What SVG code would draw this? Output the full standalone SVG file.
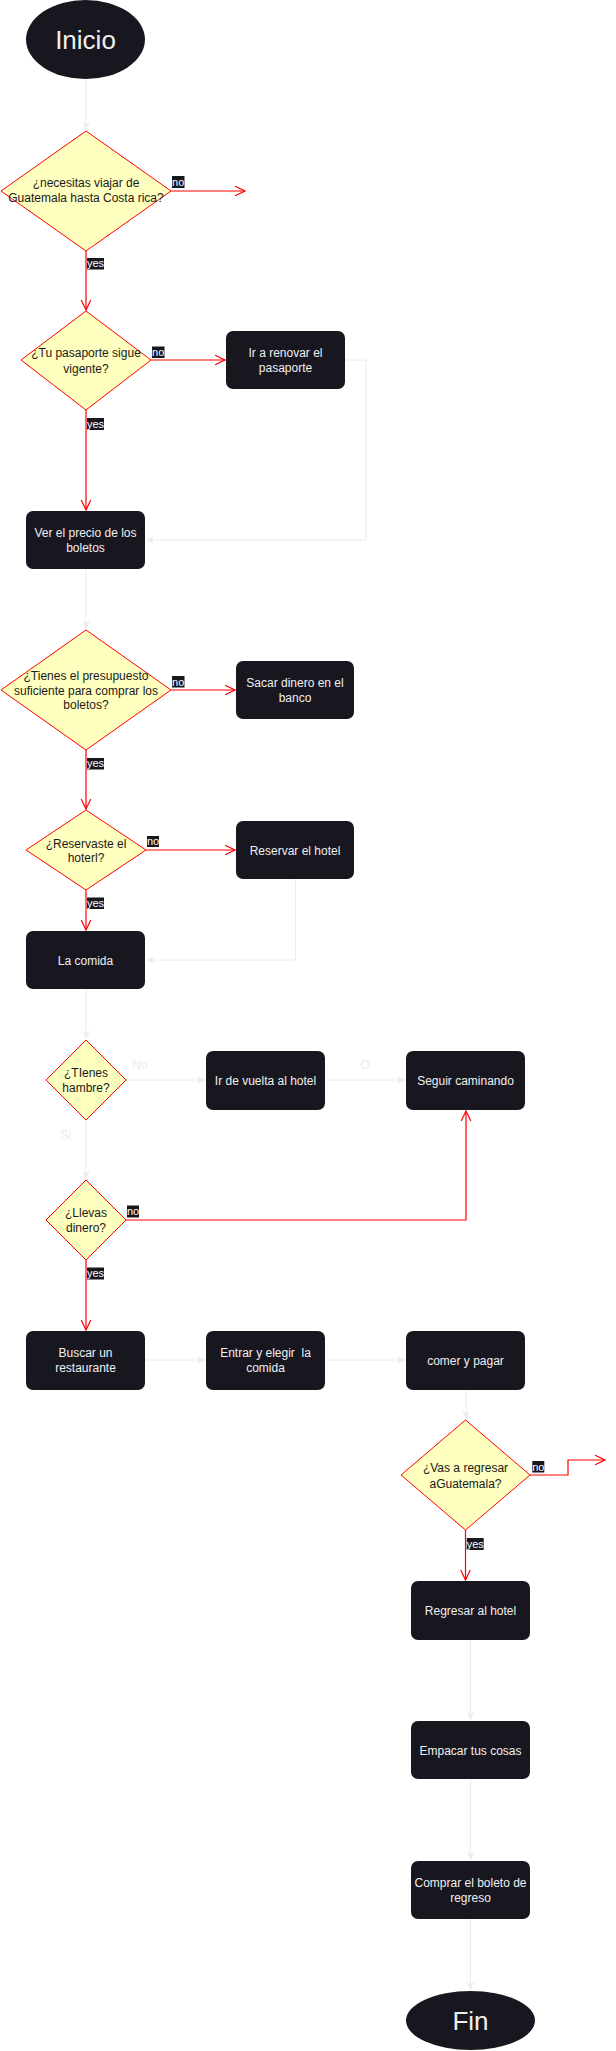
<svg xmlns="http://www.w3.org/2000/svg" width="616" height="2051" viewBox="0 0 616 2051">
<style>
text{font-family:"Liberation Sans",Arial,Helvetica,sans-serif;}
.box{fill:#18161f;}
.bt{fill:#f0f0f0;font-size:12px;text-anchor:middle;}
.big{fill:#f0f0f0;font-size:26px;text-anchor:middle;}
.dia{fill:#ffffc0;stroke:#ff0000;stroke-width:1;}
.dt{fill:#1a1a1a;font-size:12px;text-anchor:middle;}
.red{fill:none;stroke:#ff0000;stroke-width:1.2;marker-end:url(#open);}
.redn{fill:none;stroke:#ff0000;stroke-width:1.2;}
.gray{fill:none;stroke:#ececec;stroke-width:1;marker-end:url(#blk);}
.lb{fill:#18161f;}
.lt{fill:#ffffff;font-size:11px;text-anchor:middle;}
.gl{fill:#ececec;font-size:12px;text-anchor:middle;}
</style>
<defs>
<marker id="open" markerUnits="userSpaceOnUse" markerWidth="12" markerHeight="12" viewBox="0 0 12 12" refX="11" refY="6" orient="auto">
<path d="M1,1.2 L11,6 L1,10.8" fill="none" stroke="#ff0000" stroke-width="1.2"/>
</marker>
<marker id="blk" markerUnits="userSpaceOnUse" markerWidth="10" markerHeight="10" viewBox="0 0 10 10" refX="9" refY="5" orient="auto">
<path d="M1,1.2 L9,5 L1,8.8 L3,5 Z" fill="#ececec"/>
</marker>
</defs>

<g id="connectors">
<path class="gray" d="M86,80 V130"/>
<path class="red" d="M171,191 H245"/>
<path class="red" d="M86,251 V310"/>
<path class="red" d="M151,360 H225"/>
<path class="red" d="M86,410 V510"/>
<path class="gray" d="M345,360 H366 V540 H146"/>
<path class="gray" d="M86,569 V629"/>
<path class="red" d="M171,690 H235"/>
<path class="red" d="M86,750 V809"/>
<path class="red" d="M146,850 H235"/>
<path class="red" d="M86,890 V930"/>
<path class="gray" d="M295.5,879 V960 H146"/>
<path class="gray" d="M86,989 V1039"/>
<path class="gray" d="M126,1080 H205"/>
<path class="gray" d="M325,1080 H405"/>
<path class="gray" d="M86,1120 V1179"/>
<path class="red" d="M126,1220 H466 V1111"/>
<path class="red" d="M86,1260 V1330"/>
<path class="gray" d="M145,1360 H205"/>
<path class="gray" d="M325,1360 H405"/>
<path class="gray" d="M466,1390 V1419"/>
<path class="red" d="M530,1475 H568 V1460 H605"/>
<path class="red" d="M465.5,1530 V1580"/>
<path class="gray" d="M470.5,1640 V1720"/>
<path class="gray" d="M470.5,1779 V1860"/>
<path class="gray" d="M470.5,1919 V1990"/>

<rect class="lb" x="172" y="176" width="12.5" height="12"/><text class="lt" x="178.2" y="186">no</text>
<rect class="lb" x="87" y="258" width="17" height="11.5"/><text class="lt" x="95.5" y="267">yes</text>
<rect class="lb" x="152" y="346.5" width="12.5" height="11.5"/><text class="lt" x="158.2" y="356">no</text>
<rect class="lb" x="87" y="418" width="17" height="12"/><text class="lt" x="95.5" y="427.5">yes</text>
<rect class="lb" x="172" y="676" width="12.5" height="11.5"/><text class="lt" x="178.2" y="685.5">no</text>
<rect class="lb" x="87" y="758" width="17" height="11.5"/><text class="lt" x="95.5" y="767">yes</text>
<rect class="lb" x="147" y="836" width="12" height="11"/><text class="lt" x="153" y="845">no</text>
<rect class="lb" x="87" y="897.5" width="17" height="11.5"/><text class="lt" x="95.5" y="906.5">yes</text>
<text class="gl" x="140" y="1068.5">No</text>
<text class="gl" x="365" y="1068.5">O</text>
<text class="gl" x="65.5" y="1139">Si</text>
<rect class="lb" x="127" y="1205.5" width="12" height="12"/><text class="lt" x="133" y="1215">no</text>
<rect class="lb" x="87" y="1267.5" width="17" height="12"/><text class="lt" x="95.5" y="1277">yes</text>
<rect class="lb" x="532.3" y="1461" width="12" height="11.5"/><text class="lt" x="538.3" y="1470.5">no</text>
<rect class="lb" x="466.7" y="1538" width="17" height="12"/><text class="lt" x="475.2" y="1547.5">yes</text>
</g>

<g id="inicio">
<ellipse class="box" cx="85.5" cy="39.5" rx="59.5" ry="39.5"/>
<text class="big" x="85.5" y="49">Inicio</text>
</g>

<g id="d1">
<polygon class="dia" points="86,131 171,191 86,251 1,191"/>
<text class="dt" x="86" y="187">¿necesitas viajar de</text>
<text class="dt" x="86" y="202">Guatemala hasta Costa rica?</text>
</g>

<g id="d2">
<polygon class="dia" points="86,311 151,360 86,410 21,360"/>
<text class="dt" x="86" y="357">¿Tu pasaporte sigue</text>
<text class="dt" x="86" y="372.5">vigente?</text>
</g>

<g id="renovar">
<rect class="box" x="226" y="331" width="119" height="58" rx="7"/>
<text class="bt" x="285.5" y="357">Ir a renovar el</text>
<text class="bt" x="285.5" y="372">pasaporte</text>
</g>

<g id="precio">
<rect class="box" x="26" y="511" width="119" height="58" rx="7"/>
<text class="bt" x="85.5" y="537">Ver el precio de los</text>
<text class="bt" x="85.5" y="552">boletos</text>
</g>

<g id="d3">
<polygon class="dia" points="86,630 171,690 86,750 1,690"/>
<text class="dt" x="86" y="680">¿Tienes el presupuesto</text>
<text class="dt" x="86" y="694.5">suficiente para comprar los</text>
<text class="dt" x="86" y="709">boletos?</text>
</g>

<g id="sacar">
<rect class="box" x="236" y="661" width="118" height="58" rx="7"/>
<text class="bt" x="295" y="687">Sacar dinero en el</text>
<text class="bt" x="295" y="702">banco</text>
</g>

<g id="d4">
<polygon class="dia" points="86,810 146,850 86,890 26,850"/>
<text class="dt" x="86" y="847.5">¿Reservaste el</text>
<text class="dt" x="86" y="862">hoterl?</text>
</g>

<g id="reservar">
<rect class="box" x="236" y="821" width="118" height="58" rx="7"/>
<text class="bt" x="295" y="854.5">Reservar el hotel</text>
</g>

<g id="comida">
<rect class="box" x="26" y="931" width="119" height="58" rx="7"/>
<text class="bt" x="85.5" y="964.5">La comida</text>
</g>

<g id="d5">
<polygon class="dia" points="86,1040 126,1080 86,1120 46,1080"/>
<text class="dt" x="86" y="1077">¿TIenes</text>
<text class="dt" x="86" y="1092">hambre?</text>
</g>

<g id="vuelta">
<rect class="box" x="206" y="1051" width="119" height="59" rx="7"/>
<text class="bt" x="265.5" y="1084.5">Ir de vuelta al hotel</text>
</g>

<g id="seguir">
<rect class="box" x="406" y="1051" width="119" height="59" rx="7"/>
<text class="bt" x="465.5" y="1084.5">Seguir caminando</text>
</g>

<g id="d6">
<polygon class="dia" points="86,1180 126,1220 86,1260 46,1220"/>
<text class="dt" x="86" y="1217">¿Llevas</text>
<text class="dt" x="86" y="1232">dinero?</text>
</g>

<g id="buscar">
<rect class="box" x="26" y="1331" width="119" height="59" rx="7"/>
<text class="bt" x="85.5" y="1357">Buscar un</text>
<text class="bt" x="85.5" y="1372">restaurante</text>
</g>

<g id="entrar">
<rect class="box" x="206" y="1331" width="119" height="59" rx="7"/>
<text class="bt" x="265.5" y="1357" xml:space="preserve">Entrar y elegir  la</text>
<text class="bt" x="265.5" y="1372">comida</text>
</g>

<g id="comer">
<rect class="box" x="406" y="1331" width="119" height="59" rx="7"/>
<text class="bt" x="465.5" y="1364.5">comer y pagar</text>
</g>

<g id="d7">
<polygon class="dia" points="465.5,1420 530,1475 465.5,1530 401,1475"/>
<text class="dt" x="465.5" y="1472">¿Vas a regresar</text>
<text class="dt" x="465.5" y="1487.5">aGuatemala?</text>
</g>

<g id="regresar">
<rect class="box" x="411" y="1581" width="119" height="59" rx="7"/>
<text class="bt" x="470.5" y="1614.5">Regresar al hotel</text>
</g>

<g id="empacar">
<rect class="box" x="411" y="1721" width="119" height="58" rx="7"/>
<text class="bt" x="470.5" y="1754.5">Empacar tus cosas</text>
</g>

<g id="comprar">
<rect class="box" x="411" y="1861" width="119" height="58" rx="7"/>
<text class="bt" x="470.5" y="1887">Comprar el boleto de</text>
<text class="bt" x="470.5" y="1902">regreso</text>
</g>

<g id="fin">
<ellipse class="box" cx="470.5" cy="2020.5" rx="64.5" ry="29.5"/>
<text class="big" x="470.5" y="2030">Fin</text>
</g>
</svg>
